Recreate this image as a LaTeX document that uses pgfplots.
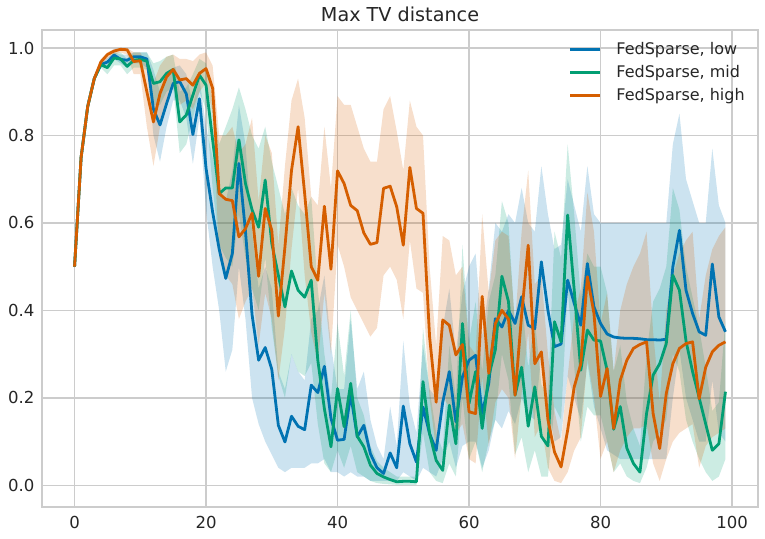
\documentclass[border=0pt]{standalone}
\usepackage{fontspec}
\setmainfont{DejaVu Sans}
\usepackage{pgfplots}
\pgfplotsset{compat=1.18}
\usepackage{pgfplotstable}
\usepgfplotslibrary{fillbetween}
\definecolor{cblue}{HTML}{0173B2}
\definecolor{cgreen}{HTML}{029E73}
\definecolor{corange}{HTML}{D55E00}
\definecolor{gridc}{HTML}{CCCCCC}
\definecolor{txt}{HTML}{262626}

\pgfplotstableread{
x y lo hi
0 0.500 0.497 0.503
1 0.750 0.745 0.755
2 0.866 0.862 0.870
3 0.930 0.925 0.935
4 0.962 0.955 0.968
5 0.968 0.958 0.978
6 0.984 0.975 0.990
7 0.974 0.965 0.985
8 0.972 0.955 0.985
9 0.980 0.965 0.990
10 0.980 0.965 0.990
11 0.975 0.955 0.990
12 0.860 0.800 0.950
13 0.824 0.740 0.900
14 0.873 0.820 0.930
15 0.919 0.880 0.955
16 0.923 0.880 0.960
17 0.895 0.840 0.940
18 0.802 0.735 0.870
19 0.884 0.840 0.930
20 0.725 0.630 0.820
21 0.625 0.500 0.750
22 0.540 0.400 0.680
23 0.473 0.260 0.650
24 0.530 0.310 0.720
25 0.736 0.500 0.870
26 0.580 0.380 0.780
27 0.390 0.200 0.580
28 0.286 0.140 0.450
29 0.315 0.100 0.500
30 0.265 0.070 0.450
31 0.137 0.040 0.260
32 0.099 0.030 0.220
33 0.158 0.040 0.300
34 0.135 0.040 0.260
35 0.127 0.040 0.240
36 0.229 0.050 0.380
37 0.212 0.050 0.400
38 0.272 0.060 0.480
39 0.153 0.030 0.320
40 0.103 0.030 0.220
41 0.105 0.020 0.220
42 0.208 0.030 0.380
43 0.111 0.020 0.220
44 0.137 0.020 0.260
45 0.072 0.010 0.150
46 0.040 0.010 0.090
47 0.027 0.010 0.060
48 0.074 0.010 0.180
49 0.040 0.010 0.090
50 0.181 0.030 0.330
51 0.095 0.020 0.180
52 0.053 0.010 0.120
53 0.179 0.040 0.320
54 0.118 0.030 0.220
55 0.080 0.020 0.200
56 0.190 0.060 0.360
57 0.260 0.100 0.450
58 0.145 0.040 0.300
59 0.248 0.090 0.440
60 0.286 0.100 0.500
61 0.297 0.100 0.530
62 0.164 0.040 0.340
63 0.233 0.080 0.450
64 0.381 0.150 0.600
65 0.362 0.130 0.580
66 0.400 0.170 0.620
67 0.370 0.140 0.600
68 0.431 0.200 0.680
69 0.366 0.160 0.600
70 0.358 0.150 0.580
71 0.511 0.300 0.730
72 0.400 0.180 0.620
73 0.317 0.100 0.540
74 0.323 0.110 0.550
75 0.469 0.250 0.700
76 0.416 0.200 0.640
77 0.366 0.150 0.580
78 0.507 0.280 0.730
79 0.408 0.180 0.620
80 0.370 0.130 0.600
81 0.346 0.080 0.600
82 0.339 0.070 0.600
83 0.337 0.060 0.600
84 0.336 0.060 0.600
85 0.336 0.060 0.600
86 0.335 0.060 0.600
87 0.333 0.060 0.600
88 0.333 0.060 0.600
89 0.332 0.060 0.600
90 0.334 0.060 0.600
91 0.500 0.200 0.780
92 0.583 0.310 0.850
93 0.446 0.200 0.700
94 0.393 0.150 0.650
95 0.351 0.100 0.600
96 0.343 0.100 0.600
97 0.506 0.240 0.770
98 0.385 0.120 0.640
99 0.351 0.100 0.600
}\lowtab

\pgfplotstableread{
x y lo hi
0 0.500 0.497 0.503
1 0.750 0.745 0.755
2 0.866 0.862 0.870
3 0.930 0.925 0.935
4 0.962 0.955 0.968
5 0.955 0.940 0.970
6 0.977 0.960 0.990
7 0.975 0.960 0.990
8 0.958 0.940 0.975
9 0.972 0.955 0.990
10 0.974 0.955 0.990
11 0.970 0.950 0.990
12 0.919 0.870 0.965
13 0.923 0.870 0.970
14 0.942 0.900 0.980
15 0.951 0.910 0.985
16 0.831 0.760 0.900
17 0.847 0.780 0.910
18 0.892 0.840 0.940
19 0.938 0.900 0.975
20 0.915 0.860 0.965
21 0.790 0.680 0.880
22 0.667 0.550 0.780
23 0.680 0.520 0.820
24 0.680 0.500 0.860
25 0.790 0.620 0.910
26 0.690 0.520 0.860
27 0.630 0.450 0.800
28 0.590 0.400 0.770
29 0.698 0.520 0.820
30 0.553 0.360 0.740
31 0.480 0.250 0.680
32 0.408 0.200 0.620
33 0.490 0.300 0.680
34 0.446 0.260 0.640
35 0.430 0.250 0.620
36 0.469 0.280 0.660
37 0.286 0.140 0.450
38 0.175 0.050 0.300
39 0.088 0.030 0.200
40 0.221 0.080 0.370
41 0.134 0.040 0.250
42 0.233 0.090 0.400
43 0.112 0.030 0.200
44 0.088 0.020 0.160
45 0.046 0.010 0.090
46 0.027 0.005 0.055
47 0.019 0.003 0.040
48 0.013 0.002 0.030
49 0.008 0.001 0.020
50 0.009 0.001 0.020
51 0.009 0.001 0.020
52 0.008 0.001 0.020
53 0.237 0.120 0.360
54 0.118 0.030 0.220
55 0.057 0.010 0.120
56 0.034 0.005 0.080
57 0.183 0.050 0.320
58 0.095 0.020 0.200
59 0.370 0.200 0.550
60 0.187 0.060 0.330
61 0.260 0.100 0.420
62 0.130 0.030 0.260
63 0.250 0.100 0.420
64 0.310 0.150 0.480
65 0.478 0.300 0.650
66 0.420 0.240 0.600
67 0.206 0.070 0.360
68 0.270 0.110 0.430
69 0.135 0.030 0.270
70 0.225 0.080 0.380
71 0.112 0.020 0.230
72 0.090 0.020 0.200
73 0.374 0.180 0.580
74 0.328 0.150 0.520
75 0.618 0.450 0.780
76 0.446 0.270 0.620
77 0.263 0.100 0.430
78 0.355 0.180 0.530
79 0.332 0.160 0.500
80 0.330 0.160 0.500
81 0.263 0.100 0.440
82 0.128 0.030 0.260
83 0.180 0.050 0.320
84 0.085 0.020 0.190
85 0.050 0.010 0.130
86 0.030 0.005 0.090
87 0.164 0.040 0.300
88 0.252 0.100 0.420
89 0.278 0.120 0.450
90 0.324 0.150 0.500
91 0.480 0.300 0.680
92 0.446 0.260 0.630
93 0.330 0.150 0.500
94 0.260 0.100 0.430
95 0.200 0.060 0.360
96 0.140 0.030 0.270
97 0.080 0.010 0.170
98 0.095 0.020 0.190
99 0.214 0.060 0.380
}\midtab

\pgfplotstableread{
x y lo hi
0 0.500 0.497 0.503
1 0.750 0.745 0.755
2 0.866 0.862 0.870
3 0.930 0.925 0.935
4 0.968 0.960 0.975
5 0.985 0.975 0.990
6 0.993 0.985 0.998
7 0.997 0.990 1.000
8 0.996 0.985 1.000
9 0.969 0.940 0.990
10 0.971 0.940 0.990
11 0.900 0.820 0.960
12 0.831 0.730 0.920
13 0.896 0.820 0.960
14 0.934 0.880 0.980
15 0.951 0.910 0.985
16 0.927 0.870 0.975
17 0.930 0.880 0.975
18 0.915 0.860 0.970
19 0.942 0.900 0.985
20 0.953 0.920 0.990
21 0.908 0.850 0.960
22 0.667 0.520 0.800
23 0.654 0.480 0.800
24 0.651 0.460 0.820
25 0.568 0.380 0.760
26 0.587 0.420 0.780
27 0.622 0.450 0.840
28 0.478 0.320 0.650
29 0.633 0.440 0.800
30 0.583 0.380 0.760
31 0.387 0.240 0.550
32 0.545 0.360 0.730
33 0.720 0.540 0.880
34 0.820 0.680 0.930
35 0.667 0.480 0.840
36 0.500 0.350 0.660
37 0.469 0.280 0.640
38 0.638 0.440 0.820
39 0.494 0.300 0.680
40 0.719 0.550 0.890
41 0.690 0.500 0.870
42 0.640 0.430 0.870
43 0.628 0.400 0.820
44 0.577 0.370 0.770
45 0.551 0.340 0.740
46 0.555 0.360 0.740
47 0.679 0.480 0.860
48 0.684 0.500 0.890
49 0.637 0.470 0.810
50 0.549 0.380 0.720
51 0.727 0.560 0.880
52 0.633 0.450 0.820
53 0.622 0.440 0.800
54 0.340 0.200 0.500
55 0.190 0.080 0.320
56 0.378 0.200 0.570
57 0.366 0.180 0.560
58 0.298 0.120 0.480
59 0.322 0.140 0.500
60 0.168 0.060 0.320
61 0.164 0.050 0.300
62 0.432 0.250 0.620
63 0.256 0.090 0.440
64 0.370 0.190 0.560
65 0.400 0.220 0.580
66 0.380 0.200 0.570
67 0.206 0.060 0.370
68 0.390 0.210 0.580
69 0.549 0.350 0.720
70 0.278 0.110 0.460
71 0.305 0.140 0.480
72 0.150 0.040 0.300
73 0.076 0.010 0.170
74 0.042 0.005 0.100
75 0.126 0.030 0.250
76 0.225 0.080 0.390
77 0.278 0.110 0.450
78 0.477 0.290 0.670
79 0.393 0.200 0.580
80 0.203 0.060 0.370
81 0.267 0.100 0.440
82 0.130 0.030 0.260
83 0.240 0.080 0.400
84 0.286 0.110 0.460
85 0.313 0.130 0.500
86 0.322 0.130 0.530
87 0.328 0.140 0.580
88 0.164 0.050 0.350
89 0.084 0.010 0.190
90 0.210 0.060 0.400
91 0.278 0.100 0.480
92 0.313 0.120 0.530
93 0.324 0.130 0.560
94 0.328 0.140 0.580
95 0.198 0.040 0.380
96 0.270 0.090 0.480
97 0.305 0.110 0.540
98 0.320 0.120 0.570
99 0.328 0.130 0.590
}\hightab

\begin{document}
\begin{tikzpicture}
\begin{axis}[
  scale only axis,
  width=537pt, height=357.75pt,
  xmin=-4.95, xmax=103.95,
  ymin=-0.0497, ymax=1.0412,
  xtick={0,20,40,60,80,100},
  ytick={0,0.2,0.4,0.6,0.8,1.0},
  y tick label style={/pgf/number format/fixed, /pgf/number format/fixed zerofill, /pgf/number format/precision=1},
  /pgf/number format/assume math mode=true,
  major tick length=0pt,
  grid=major,
  grid style={gridc, line width=1.1pt},
  axis line style={gridc, line width=1.1pt},
  tick label style={font=\fontsize{12.4}{14}\selectfont, text=txt},
  y tick label style={anchor=east, inner sep=0pt, xshift=-5.5pt},
  x tick label style={anchor=north, inner sep=0pt, yshift=-7pt},
  title={Max TV distance},
  every axis title shift=0pt,
  title style={font=\fontsize{14.4}{17}\selectfont, text=txt, at={(0.5,1)}, anchor=base, yshift=6pt, inner sep=0pt},
  legend style={at={(1,1)}, anchor=north east, xshift=-9.75pt, yshift=-5.6pt,
    draw=none, fill=none, inner sep=0pt,
    font=\fontsize{12}{14}\selectfont, text=txt,
    nodes={inner sep=0pt, minimum height=17.25pt},
    /tikz/every odd column/.append style={column sep=11.25pt}},
  legend cell align=left,
  legend image code/.code={\draw[#1] (0pt,0pt) -- (22.5pt,0pt);},
]
\coordinate (sw) at (rel axis cs:0,0);
\coordinate (ne) at (rel axis cs:1,1);

\addplot[draw=none, forget plot, name path=lU] table[x=x, y=hi] {\lowtab};
\addplot[draw=none, forget plot, name path=lL] table[x=x, y=lo] {\lowtab};
\addplot[cblue, fill opacity=0.2, draw=none, forget plot] fill between[of=lU and lL];

\addplot[draw=none, forget plot, name path=mU] table[x=x, y=hi] {\midtab};
\addplot[draw=none, forget plot, name path=mL] table[x=x, y=lo] {\midtab};
\addplot[cgreen, fill opacity=0.2, draw=none, forget plot] fill between[of=mU and mL];

\addplot[draw=none, forget plot, name path=hU] table[x=x, y=hi] {\hightab};
\addplot[draw=none, forget plot, name path=hL] table[x=x, y=lo] {\hightab};
\addplot[corange, fill opacity=0.2, draw=none, forget plot] fill between[of=hU and hL];

\addplot[cblue, line width=2.1pt, line join=round] table[x=x, y=y] {\lowtab};
\addlegendentry{FedSparse, low}
\addplot[cgreen, line width=2.1pt, line join=round] table[x=x, y=y] {\midtab};
\addlegendentry{FedSparse, mid}
\addplot[corange, line width=2.1pt, line join=round] table[x=x, y=y] {\hightab};
\addlegendentry{FedSparse, high}
\end{axis}
\pgfresetboundingbox
\path[use as bounding box] ([xshift=-31.5pt,yshift=-24pt]sw) rectangle ([xshift=5.25pt,yshift=22.5pt]ne);
\end{tikzpicture}
\end{document}
